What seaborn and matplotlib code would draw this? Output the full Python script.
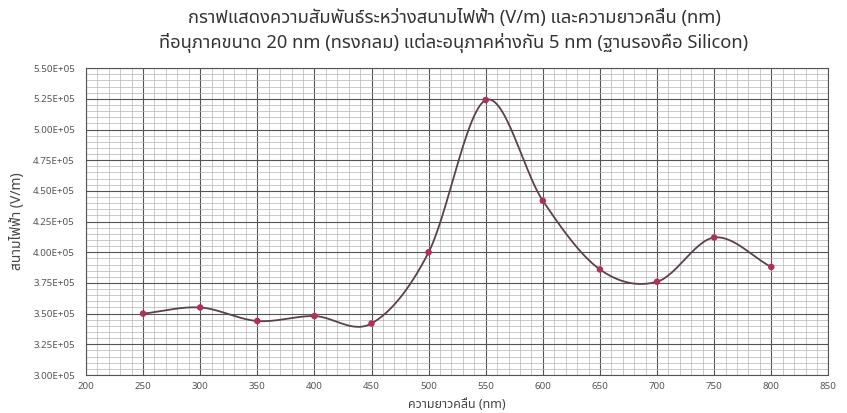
import numpy as np
import pandas as pd
import seaborn as sns
import matplotlib
matplotlib.use("Agg")
import matplotlib.pyplot as plt
from matplotlib.ticker import MultipleLocator, FuncFormatter
from matplotlib import font_manager

wavelength = [250, 300, 350, 400, 450, 500, 550, 600, 650, 700, 750, 800]
efield = [3.50e5, 3.55e5, 3.44e5, 3.48e5, 3.42e5, 4.00e5, 5.24e5, 4.42e5, 3.86e5, 3.76e5, 4.12e5, 3.88e5]
title_text = ("กราฟแสดงความสัมพันธ์ระหว่างสนามไฟฟ้า (V/m) และความยาวคลื่น (nm)\n"
              "ที่อนุภาคขนาด 20 nm (ทรงกลม) แต่ละอนุภาคห่างกัน 5 nm (ฐานรองคือ Silicon)")
xlabel_text = "ความยาวคลื่น (nm)"
ylabel_text = "สนามไฟฟ้า (V/m)"

df = pd.DataFrame({"wl": wavelength, "E": efield})

# smooth curve (Catmull-Rom, like spreadsheet smoothed lines)
def catmull(x, y, n=30):
    x = np.asarray(x, float); y = np.asarray(y, float)
    px = np.concatenate([[2*x[0]-x[1]], x, [2*x[-1]-x[-2]]])
    py = np.concatenate([[2*y[0]-y[1]], y, [2*y[-1]-y[-2]]])
    xs, ys = [], []
    for i in range(1, len(px)-2):
        t = np.linspace(0, 1, n, endpoint=False)
        for arr, out in ((px, xs), (py, ys)):
            p0, p1, p2, p3 = arr[i-1], arr[i], arr[i+1], arr[i+2]
            out.extend(0.5*((2*p1) + (-p0+p2)*t + (2*p0-5*p1+4*p2-p3)*t**2 + (-p0+3*p1-3*p2+p3)*t**3))
    xs.append(x[-1]); ys.append(y[-1])
    return np.array(xs), np.array(ys)

sx, sy = catmull(wavelength, efield)
smooth = pd.DataFrame({"wl": sx, "E": sy})

sns.set_theme(style="white")
avail = {f.name for f in font_manager.fontManager.ttflist}
fams = [f for f in ["Noto Sans Thai", "Loma", "Garuda", "Tlwg Typo", "Noto Sans", "DejaVu Sans"] if f in avail]
plt.rcParams["font.family"] = fams

fig = plt.figure(figsize=(8.47, 4.13), dpi=100)
ax = fig.add_axes([0.1015, 0.092, 0.8765, 0.743])

sns.lineplot(data=smooth, x="wl", y="E", ax=ax, color="#5b4050", linewidth=1.3, sort=False, estimator=None)
sns.scatterplot(data=df, x="wl", y="E", ax=ax, color="#b0305a", s=22, edgecolor="none", zorder=5)

ax.set_xlim(200, 850)
ax.set_ylim(3.0e5, 5.5e5)
ax.xaxis.set_major_locator(MultipleLocator(50))
ax.xaxis.set_minor_locator(MultipleLocator(10))
ax.yaxis.set_major_locator(MultipleLocator(25000))
ax.yaxis.set_minor_locator(MultipleLocator(5000))
ax.yaxis.set_major_formatter(FuncFormatter(lambda v, p: f"{v:.2E}"))
ax.grid(which="major", color="#555555", linewidth=0.8)
ax.grid(which="minor", color="#b5b5b5", linewidth=0.5)
ax.set_axisbelow(True)
for s in ax.spines.values():
    s.set_color("#555555"); s.set_linewidth(0.8)
ax.tick_params(axis="y", which="both", length=0, labelsize=7, colors="#555555", pad=8)
ax.tick_params(axis="x", which="both", length=0, labelsize=7, colors="#555555", pad=5)

ax.set_xlabel(xlabel_text, fontsize=9, color="#444444", labelpad=5)
ax.set_ylabel(ylabel_text, fontsize=10, color="#444444", labelpad=4)
ax.yaxis.set_label_coords(-0.082, 0.5)
fig.text(0.536, 0.978, title_text, ha="center", va="top", fontsize=13.2, color="#333333", linespacing=1.42)

fig.savefig("out.png", dpi=100)
